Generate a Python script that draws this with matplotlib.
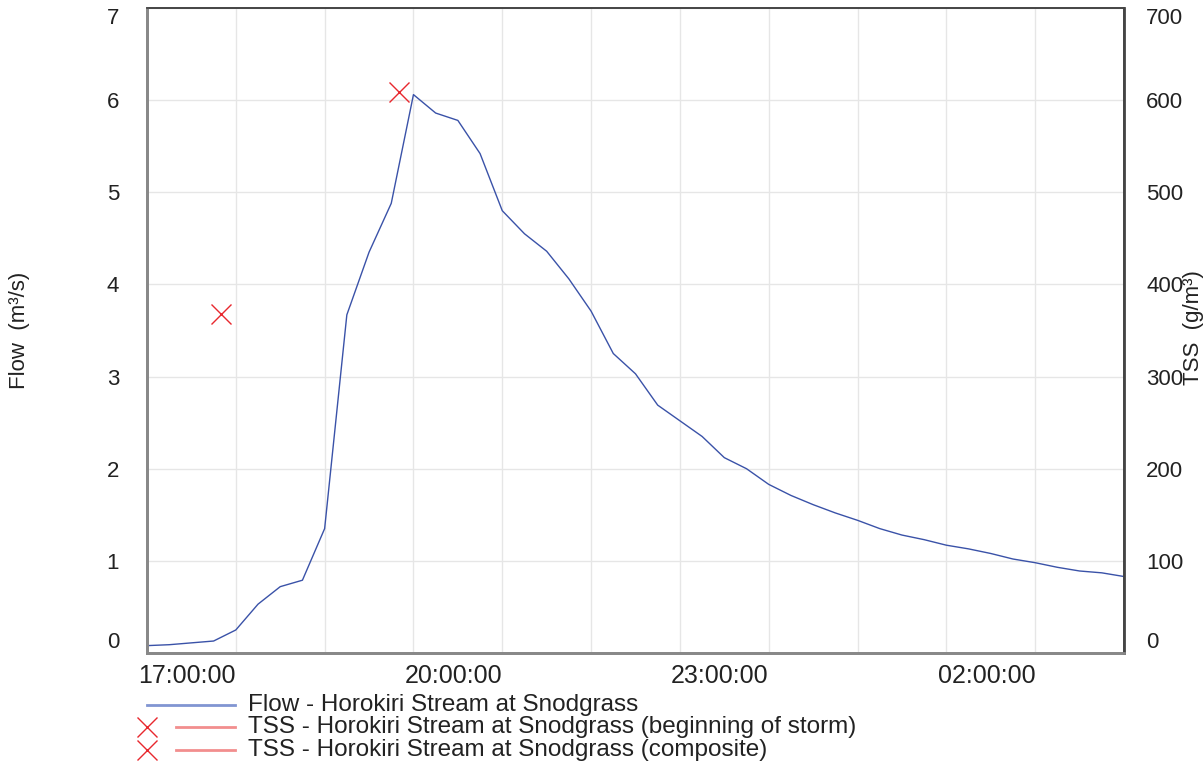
import matplotlib
matplotlib.use("Agg")
import matplotlib.pyplot as plt
import matplotlib.dates as mdates
from matplotlib.lines import Line2D
import pandas as pd

plt.rcParams['font.family'] = ['Liberation Sans', 'DejaVu Sans']

# Flow every 15 minutes, 16:00 to 03:00
flow_times = pd.date_range("2000-01-01 16:00", "2000-01-02 03:00", freq="15min")
flow = [0.08, 0.09, 0.11, 0.13, 0.25, 0.53, 0.72, 0.79, 1.35, 3.67, 4.35, 4.88,
        6.06, 5.86, 5.78, 5.42, 4.80, 4.55, 4.36, 4.06, 3.71, 3.25, 3.03, 2.69,
        2.52, 2.35, 2.12, 2.00, 1.83, 1.71, 1.61, 1.52, 1.44, 1.35, 1.28, 1.23,
        1.17, 1.13, 1.08, 1.02, 0.98, 0.93, 0.89, 0.87, 0.83]

# TSS samples
tss_times = pd.to_datetime(["2000-01-01 16:50", "2000-01-01 18:50"])
tss = [368, 609]

legend_labels = ["Flow - Horokiri Stream at Snodgrass",
                 "TSS - Horokiri Stream at Snodgrass (beginning of storm)",
                 "TSS - Horokiri Stream at Snodgrass (composite)"]

blue = "#3a52a8"
red = "#e8282e"
txt = "#222222"

fig = plt.figure(figsize=(12.04, 7.62), dpi=100)
ax = fig.add_axes([147/1204, 1 - 653/762, 977/1204, 645/762])
ax2 = ax.twinx()

ax.plot(flow_times, flow, color=blue, lw=1)
ax2.plot(tss_times, tss, linestyle="none", marker="x", markersize=14,
         markeredgewidth=1, color=red)

ax.set_xlim(flow_times[0], flow_times[-1])
ax.set_ylim(0, 7)
ax2.set_ylim(0, 700)
ax.set_yticks(range(0, 8))
ax2.set_yticks(range(0, 701, 100))

ax.xaxis.set_major_locator(mdates.HourLocator(byhour=[17, 20, 23, 2]))
ax.xaxis.set_minor_locator(mdates.HourLocator())
ax.xaxis.set_major_formatter(mdates.DateFormatter("%H:%M:%S"))

ax.grid(True, which="both", color="#e6e6e6", lw=1)
ax.set_axisbelow(True)

ax.tick_params(axis="x", which="both", length=0, pad=8, labelsize=18, colors=txt)
ax.tick_params(axis="y", length=0, pad=20, labelsize=16, colors=txt)
ax2.tick_params(axis="y", length=0, pad=16, labelsize=16, colors=txt)
for lab in ax.get_xticklabels():
    lab.set_ha("right")

for a in (ax, ax2):
    labs = a.get_yticklabels()
    labs[0].set_va("bottom")
    labs[-1].set_va("top")

for a in (ax, ax2):
    for s in a.spines.values():
        s.set_color("#444444")
        s.set_linewidth(1.2)
    a.spines["left"].set_color("#888888")
    a.spines["left"].set_linewidth(2)
    a.spines["bottom"].set_color("#888888")
    a.spines["bottom"].set_linewidth(2)
ax2.spines["right"].set_linewidth(2)

fig.text(20/1204, 1 - 330/762, "Flow  (m\u00b3/s)", rotation=90, ha="center",
         va="center", fontsize=16, color=txt)
fig.text(1194/1204, 1 - 328/762, "TSS  (g/m\u00b3)", rotation=90, ha="center",
         va="center", fontsize=16, color=txt)

# legend below the plot
rows = [705, 727, 750]
fig.add_artist(Line2D([147/1204, 235/1204], [1 - rows[0]/762] * 2,
                      color="#8195d2", lw=2))
for r in rows[1:]:
    fig.add_artist(Line2D([147/1204], [1 - r/762], marker="x", markersize=14,
                          markeredgewidth=1, color=red, linestyle="none"))
    fig.add_artist(Line2D([176/1204, 235/1204], [1 - r/762] * 2,
                          color="#f28e8e", lw=2))
for r, lab in zip(rows, legend_labels):
    fig.text(248/1204, 1 - r/762, lab, ha="left", va="center",
             fontsize=17.5, color=txt)

fig.savefig("out.png", dpi=100)
